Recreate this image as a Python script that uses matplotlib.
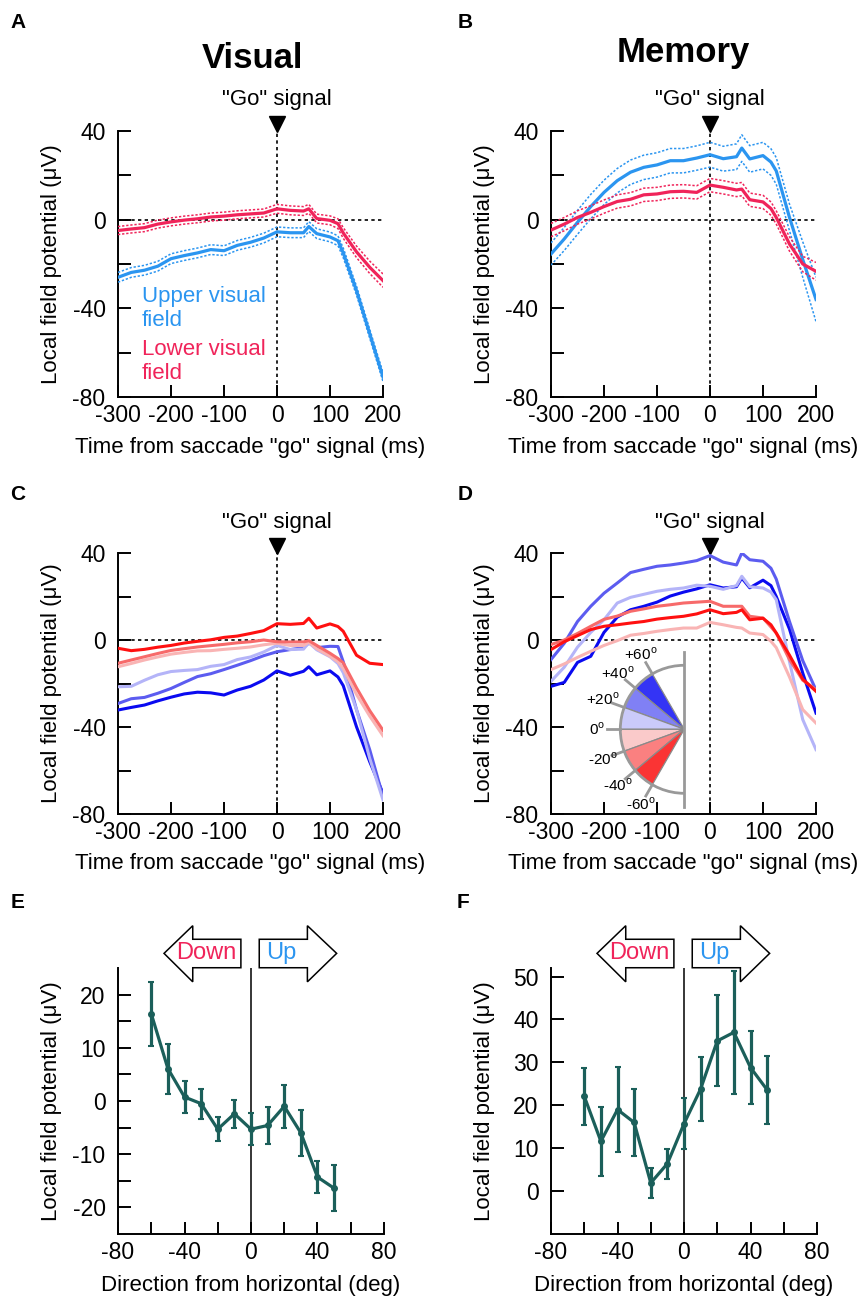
import matplotlib.pyplot as plt
import matplotlib.patches as mpatches
import numpy as np

plt.rcParams['font.family'] = ['Liberation Sans', 'DejaVu Sans']
plt.rcParams['mathtext.fontset'] = 'custom'
plt.rcParams['mathtext.rm'] = 'Liberation Sans'
plt.rcParams['axes.unicode_minus'] = False

W, H = 866, 1298

# ---- data -----------------------------------------------------------
time = [-300, -275, -250, -225, -200, -175, -150, -125, -100, -75, -50, -25,
        0, 25, 50, 60, 75, 100, 115, 125, 150, 175, 200]

# A: visual task, upper / lower field
vis_upper = [-26, -23.8, -22.8, -21, -17.6, -16.2, -15, -13.5, -14, -11.6, -10.2, -8.3,
             -5.5, -5.9, -5.9, -3.1, -6.3, -7.8, -9.5, -15, -32, -51.5, -71]
vis_upper_se = [2.2, 2.2, 2.2, 2.2, 2.2, 2.2, 2.2, 2.2, 2.2, 2.2, 2.2, 2.2,
                2.2, 2.2, 2.2, 2.2, 2.2, 2.2, 2.2, 2.2, 2.0, 2.0, 2.0]
vis_lower = [-4.9, -4.2, -3.6, -2, -1, -0.2, 0.4, 1.2, 1.6, 2.2, 2.6, 3.0,
             4.9, 4.2, 3.9, 4.9, 0.5, -0.3, -1.8, -6, -14.5, -21.5, -27.5]
vis_lower_se = [1.8, 1.8, 1.8, 1.8, 1.8, 1.8, 1.8, 1.8, 1.8, 1.8, 1.8, 1.8,
                2.0, 2.0, 2.0, 2.0, 2.0, 2.0, 2.2, 2.4, 2.6, 2.8, 3.0]

# B: memory task, upper / lower field
mem_upper = [-15.5, -8.7, -1.2, 5.9, 12.3, 17.6, 21.4, 23.6, 24.7, 26.6, 26.6, 27.8,
             29.3, 27.5, 28.4, 32.3, 27.4, 28.9, 26, 22, 1, -18, -36]
mem_upper_se = [5, 5.2, 5.4, 5.5, 5.5, 5.5, 5.5, 5.5, 5.5, 5.5, 5.5, 5.5,
                5.6, 5.6, 5.8, 6, 6, 6, 6, 6, 6, 8, 10]
mem_lower = [-4.7, -2, 1, 3.3, 5.9, 8.2, 9.2, 11.2, 11.6, 12.6, 12.8, 12.3,
             15.6, 14.6, 13.4, 13.8, 9, 8, 5, 1, -11, -20, -23.3]
mem_lower_se = [3, 3, 3, 3, 3, 3, 3, 3, 3, 3, 3, 3,
                3, 3, 3, 3, 3, 3, 3, 3, 3.2, 3.5, 4]

# C / D: six direction bins, +60..+40 down to -40..-60
bin_names = ['+40..+60', '+20..+40', '0..+20', '-20..0', '-40..-20', '-60..-40']
bin_colors = ['#0a0af0', '#5c5cf0', '#b4b4f8', '#f9b4b4', '#f76a6a', '#ff1010']

vis_bins = [
    [-32.2, -31, -29.9, -28, -26.3, -24.8, -24, -24.3, -25.3, -23, -21.3, -18.4,
     -14.2, -16.2, -14.4, -12.3, -16, -14.2, -17, -21, -39.9, -56, -70.5],
    [-29.2, -27, -26.4, -24.5, -22.3, -19.5, -16.8, -15.5, -13.6, -11.6, -9.5, -7.2,
     -5.4, -4.4, -3.5, -1.4, -3.5, -2.9, -3, -10, -32, -50.5, -72],
    [-21.5, -21.3, -18.5, -16, -14.5, -14, -13.6, -12.1, -11.3, -9, -7.8, -5.5,
     -2.5, -4.4, -4.2, -1.2, -4.5, -7.7, -10.8, -15, -32, -54.5, -73.5],
    [-12.3, -10.8, -9.2, -7.8, -6.5, -5.7, -5, -4.9, -4.3, -3.8, -3.2, -2.2,
     -1.5, -2.5, -2.5, -1.0, -4, -7.5, -10, -13, -25, -35, -44],
    [-10.7, -9.2, -7.7, -6.2, -4.8, -4.0, -3.2, -2.6, -2.0, -1.3, -0.8, 0,
     -0.8, -0.9, -0.9, -0.3, -2.5, -6.1, -8.5, -10.5, -22, -32.5, -41.5],
    [-3.8, -4.9, -4.3, -3.3, -2.5, -1.4, -0.6, 0.1, 1.2, 1.8, 3.0, 4.3,
     7.5, 7.2, 7.6, 10, 5.5, 7.4, 6.2, 4, -7, -10.7, -11.3],
]

mem_bins = [
    [-21.3, -19.5, -10.3, -7.5, 3.5, 10.5, 13.9, 15.5, 17.4, 20.2, 22, 23.5,
     25.4, 23.9, 24.5, 28.5, 24, 27.5, 25, 20, 5, -15.2, -33.6],
    [-9, -1.5, 8.5, 15.5, 21.5, 26.2, 31, 32.5, 33.9, 34.5, 35.4, 36.5,
     38.8, 35.8, 34.5, 40, 36.9, 36.2, 33, 28, 8.5, -9.5, -23],
    [-19, -12.5, -3.3, 3.5, 9.3, 17, 19.6, 21, 22.4, 23.3, 23.9, 25.2,
     24.7, 23.3, 25, 29.3, 24.5, 23.9, 22, 18.5, -10, -36.6, -50.4],
    [-13.6, -11, -8, -5.2, -2.5, -0.3, 2.2, 3, 4, 4.8, 5.5, 5.5,
     8.1, 7, 5.8, 5.5, 3.2, 2.5, -0.6, -3.5, -17, -32, -38.2],
    [-2.1, 0, 3, 6.3, 9.5, 11, 13.2, 14.3, 15.5, 16.2, 17, 17.4,
     17.8, 15.5, 15.5, 15.5, 10.9, 10.1, 6, 3.2, -9, -18.5, -22.8],
    [-4.4, -0.8, 2, 4.8, 6.3, 7, 7.8, 8.5, 9.6, 10.3, 10.9, 12,
     13.9, 12.1, 12.7, 13.9, 9.3, 10, 7, 3.2, -7, -18, -23.6],
]

wedge_angles = [60, 40, 20, 0, -20, -40, -60]
wedge_colors = ['#3434f5', '#8080f5', '#cacafa', '#facaca', '#fa8080', '#fa3434']

# E / F: tuning with direction
direction = [-60, -50, -40, -30, -20, -10, 0, 10, 20, 30, 40, 50]
vis_lfp = [16.4, 6.1, 0.75, -0.5, -5.3, -2.4, -5.3, -4.6, -1.0, -6.0, -14.3, -16.4]
vis_err = [6.0, 4.7, 3.0, 2.8, 2.2, 2.6, 3.0, 3.5, 4.0, 4.3, 3.0, 4.3]
mem_lfp = [22.1, 11.6, 19.0, 16.0, 1.9, 6.4, 15.7, 23.8, 35.0, 37.0, 28.8, 23.6]
mem_err = [6.7, 8.1, 9.9, 7.8, 3.5, 3.5, 6.0, 7.5, 10.6, 14.3, 8.6, 8.0]

blue = '#2b95f0'
red = '#f0245a'
teal = '#1b5f5a'
FS = 16

fig = plt.figure(figsize=(W / 100, H / 100), dpi=100)


def add_ax(left, top, right, bottom):
    return fig.add_axes([left / W, 1 - bottom / H, (right - left) / W, (bottom - top) / H])


def style_axes(ax):
    for s in ['top', 'right']:
        ax.spines[s].set_visible(False)
    for s in ['left', 'bottom']:
        ax.spines[s].set_linewidth(1.4)
    ax.tick_params(which='both', direction='in', length=9, width=1.4, labelsize=FS + 0.5)
    ax.tick_params(axis='y', which='both', pad=9)
    ax.tick_params(axis='x', which='both', pad=5)
    ax.set_ylabel('Local field potential (μV)', fontsize=FS)
    ax.yaxis.set_label_coords(-0.21, 0.5)


def time_axes(ax):
    style_axes(ax)
    ax.set_xlim(-300, 200)
    ax.set_ylim(-80, 40)
    ax.set_xticks([-300, -200, -100, 0, 100, 200])
    ax.set_yticks([-80, -40, 0, 40])
    ax.set_yticks([-60, -20, 20], minor=True)
    ax.axhline(0, color='black', ls=(0, (2, 2)), lw=1.2, zorder=1)
    ax.axvline(0, color='black', ls=(0, (2, 2)), lw=1.2, zorder=1)
    tr = ax.get_xaxis_transform()
    ax.plot([0], [1.026], marker='v', ms=11, color='black', transform=tr, clip_on=False)
    ax.text(0, 1.117, '"Go" signal', transform=tr, ha='center', va='center', fontsize=FS)
    ax.set_xlabel('Time from saccade "go" signal (ms)', fontsize=FS)
    ax.xaxis.set_label_coords(0.5, -0.15)


def mean_se(ax, mean, se, color):
    mean = np.array(mean)
    se = np.array(se)
    ax.plot(time, mean, color=color, lw=2.3, zorder=3)
    ax.plot(time, mean + se, color=color, lw=1.1, ls=(0, (1.5, 1.2)), zorder=3)
    ax.plot(time, mean - se, color=color, lw=1.1, ls=(0, (1.5, 1.2)), zorder=3)


def tuning_axes(ax, lfp, err, ylim, yticks, minor):
    style_axes(ax)
    ax.set_xlim(-80, 80)
    ax.set_ylim(*ylim)
    ax.set_xticks([-80, -40, 0, 40, 80])
    ax.set_xticks([-60, -20, 20, 60], minor=True)
    ax.set_yticks(yticks)
    ax.set_yticks(minor, minor=True)
    ax.axvline(0, color='black', lw=1.1, zorder=1)
    ax.errorbar(direction, lfp, yerr=err, color=teal, lw=2.3, elinewidth=2.3,
                capsize=2.5, capthick=1.5, marker='o', ms=4, zorder=3)
    ax.set_xlabel('Direction from horizontal (deg)', fontsize=FS)
    ax.xaxis.set_label_coords(0.5, -0.154)
    # Down / Up arrows
    down = [(0.173, 1.055), (0.281, 1.159), (0.281, 1.108), (0.462, 1.108),
            (0.462, 1.001), (0.281, 1.001), (0.281, 0.948)]
    up = [(0.531, 1.108), (0.712, 1.108), (0.712, 1.159), (0.822, 1.055),
          (0.712, 0.948), (0.712, 1.001), (0.531, 1.001)]
    for pts in [down, up]:
        ax.add_patch(mpatches.Polygon(pts, closed=True, facecolor='white', edgecolor='black',
                                      lw=1.1, transform=ax.transAxes, clip_on=False, zorder=5))
    ax.text(0.333, 1.056, 'Down', color=red, fontsize=FS + 1, ha='center', va='center',
            transform=ax.transAxes, zorder=6)
    ax.text(0.615, 1.056, 'Up', color=blue, fontsize=FS + 1, ha='center', va='center',
            transform=ax.transAxes, zorder=6)


# ---- A ----
axA = add_ax(118, 131, 383, 397)
time_axes(axA)
mean_se(axA, vis_upper, vis_upper_se, blue)
mean_se(axA, vis_lower, vis_lower_se, red)
axA.text(-255, -40, 'Upper visual\nfield', color=blue, fontsize=FS, ha='left', va='center')
axA.text(-255, -64, 'Lower visual\nfield', color=red, fontsize=FS, ha='left', va='center')

# ---- B ----
axB = add_ax(551, 131, 816, 397)
time_axes(axB)
mean_se(axB, mem_upper, mem_upper_se, blue)
mean_se(axB, mem_lower, mem_lower_se, red)

# ---- C ----
axC = add_ax(118, 553, 383, 814)
time_axes(axC)
for vals, c in zip(vis_bins, bin_colors):
    axC.plot(time, vals, color=c, lw=2.2, zorder=3)

# ---- D ----
axD = add_ax(551, 553, 816, 814)
time_axes(axD)
for vals, c in zip(mem_bins, bin_colors):
    axD.plot(time, vals, color=c, lw=2.2, zorder=3)

# inset fan (pixel units, centre of the fan at 0,0)
cx, cy = 684.3, 729.3
axI = add_ax(580, 640, 720, 820)
axI.set_xlim(580 - cx, 720 - cx)
axI.set_ylim(cy - 820, cy - 640)
axI.axis('off')
axI.patch.set_alpha(0)
R = 64
for i in range(6):
    a1 = 180 - wedge_angles[i + 1]
    a0 = 180 - wedge_angles[i]
    lo, hi = min(a0, a1), max(a0, a1)
    axI.add_patch(mpatches.Wedge((0, 0), R, lo, hi, facecolor=wedge_colors[i],
                                 edgecolor='#8a8a8a', lw=0.9))
axI.add_patch(mpatches.Arc((0, 0), 2 * R, 2 * R, theta1=90, theta2=270, color='#999999', lw=2))
axI.plot([0, 0], [-77.5, 77.5], color='#999999', lw=2)
for a in wedge_angles:
    th = np.deg2rad(180 - a)
    axI.plot([R * np.cos(th), (R + 13) * np.cos(th)], [R * np.sin(th), (R + 13) * np.sin(th)],
             color='#999999', lw=2)
    lab = ('+' if a > 0 else '') + str(a) + r'$^{\mathrm{o}}$'
    axI.text(87 * np.cos(th), 87 * np.sin(th), lab, fontsize=11, ha='center', va='center')

# ---- E ----
axE = add_ax(118, 968, 384, 1234)
tuning_axes(axE, vis_lfp, vis_err, (-25, 25), [-20, -10, 0, 10, 20], [-15, -5, 5, 15])

# ---- F ----
axF = add_ax(551, 968, 817, 1234)
tuning_axes(axF, mem_lfp, mem_err, (-10, 52), [0, 10, 20, 30, 40, 50], [])

# ---- titles and panel letters ----
fig.text(253 / W, 1 - 68 / H, 'Visual', fontsize=25, fontweight='bold', ha='center', va='baseline')
fig.text(683 / W, 1 - 62 / H, 'Memory', fontsize=25, fontweight='bold', ha='center', va='baseline')
letters = [('A', 18, 22), ('B', 465, 22), ('C', 18, 495), ('D', 465, 495), ('E', 18, 902), ('F', 463, 902)]
for s, x, y in letters:
    fig.text(x / W, 1 - y / H, s, fontsize=15, fontweight='bold', ha='center', va='center')

fig.savefig('out.png', dpi=100)
